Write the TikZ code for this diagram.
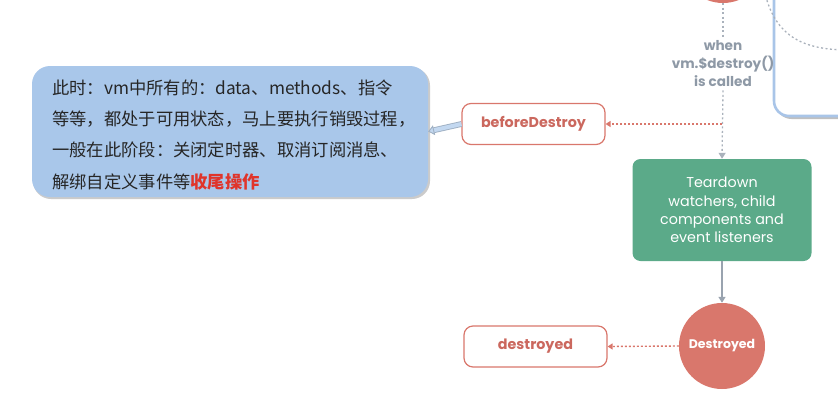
\documentclass[tikz,border=0pt]{standalone}
\usepackage{fontspec}
\setmainfont{Poppins}
\newfontfamily\pop{Poppins}
\newfontfamily\cjk{Noto Sans CJK SC}
\usetikzlibrary{arrows.meta}
\definecolor{vred}{HTML}{D9776C}
\definecolor{vredtxt}{HTML}{CB685E}
\definecolor{vgray}{HTML}{8E99A6}
\definecolor{vgreen}{HTML}{5BAA89}
\definecolor{vblue}{HTML}{A9C7EA}
\definecolor{vblueline}{HTML}{A9C5E8}
\definecolor{vshadow}{HTML}{8C8C8C}
\definecolor{hotred}{HTML}{E0342A}
\definecolor{txtdark}{HTML}{262626}
\tikzset{
  hookbox/.style={draw=vred, line width=1.2pt, fill=white, rounded corners=9pt,
    minimum width=143pt, minimum height=41pt, text=vredtxt,
    font=\pop\bfseries\fontsize{14.3}{16}\selectfont},
  statecircle/.style={circle, fill=vred, minimum size=86pt, inner sep=0pt, text=white,
    font=\pop\bfseries\fontsize{12.5}{14}\selectfont},
  reddots/.style={draw=vred, line width=1.4pt, dash pattern=on 2pt off 2pt,
    -{Triangle[length=5pt,width=6pt]}},
  graydots/.style={draw=vgray!75, line width=1.3pt, dash pattern=on 2pt off 2.5pt},
  grayarrow/.style={-{Triangle[length=6pt,width=7pt]}},
}
\begin{document}
\begin{tikzpicture}[x=1pt,y=-1pt]
\useasboundingbox (0,0) rectangle (838,402);
\clip (0,0) rectangle (838,402);
% right blue box (partially visible)
\fill[vshadow!55, rounded corners=16pt] (775.5,-30) rectangle (870,119);
\draw[vblueline, line width=2.6pt, fill=white, rounded corners=15pt] (774,-30) rectangle (868,116);
% top circle
\node[statecircle] (topc) at (723,-40) {};
% dotted curve
\coordinate (cend) at (845,50);
\draw[graydots] (topc.-25) .. controls (770,35) and (800,49) .. (cend);
% label
\node[text=vgray, align=center, font=\pop\bfseries\fontsize{13.6}{18}\selectfont, inner sep=3pt] (lbl) at (723,64) {when\\vm.\$destroy()\\is called};
% green box
\node[fill=vgreen, rounded corners=8pt, minimum width=179pt, minimum height=102pt, text=white, align=center,
  font=\pop\fontsize{14.3}{18.3}\selectfont] (tear) at (722,210) {Teardown\\watchers, child\\components and\\event listeners};
% Destroyed circle
\node[statecircle] (dc) at (722,346) {Destroyed};
% hook boxes
\node[hookbox] (bd) at (533.5,124) {beforeDestroy};
\node[hookbox] (dd) at (535.5,346.5) {destroyed};
% callout
\fill[vshadow!45, rounded corners=18pt] (33,67.5) rectangle (430,199);
\node[fill=vblue, rounded corners=18pt, minimum width=396pt, minimum height=131pt, inner sep=0pt] (note) at (230,131.5) {};
\node[anchor=north west, align=left, text=txtdark, inner sep=0pt,
  font=\cjk\fontsize{17.3}{31.3}\selectfont] (notetxt) at (52,79.5)
  {此时：vm中所有的：data、methods、指令\\
   等等，都处于可用状态，马上要执行销毁过程，\\
   一般在此阶段：关闭定时器、取消订阅消息、\\
   解绑自定义事件等{\bfseries\color{hotred}收尾操作}};
% connectors
\draw[graydots] (topc.south) -- (lbl.north);
\draw[graydots, grayarrow] (lbl.south) -- (tear.north);
\coordinate (j) at (tear.north |- bd.east);
\draw[reddots] (j) -- (bd.east);
\draw[vgray!90, line width=1.4pt, grayarrow] (tear.south) -- (dc.north);
\draw[reddots] (dc.west) -- (dd.east);
% blue double arrow
\draw[draw=vblue!75!black!75, double=vblue!70, double distance=4pt, line width=0.9pt,
  -{Triangle[open, length=6pt, width=10pt, fill=vblue!70]}] (bd.west) -- (note.east);
\end{tikzpicture}
\end{document}
